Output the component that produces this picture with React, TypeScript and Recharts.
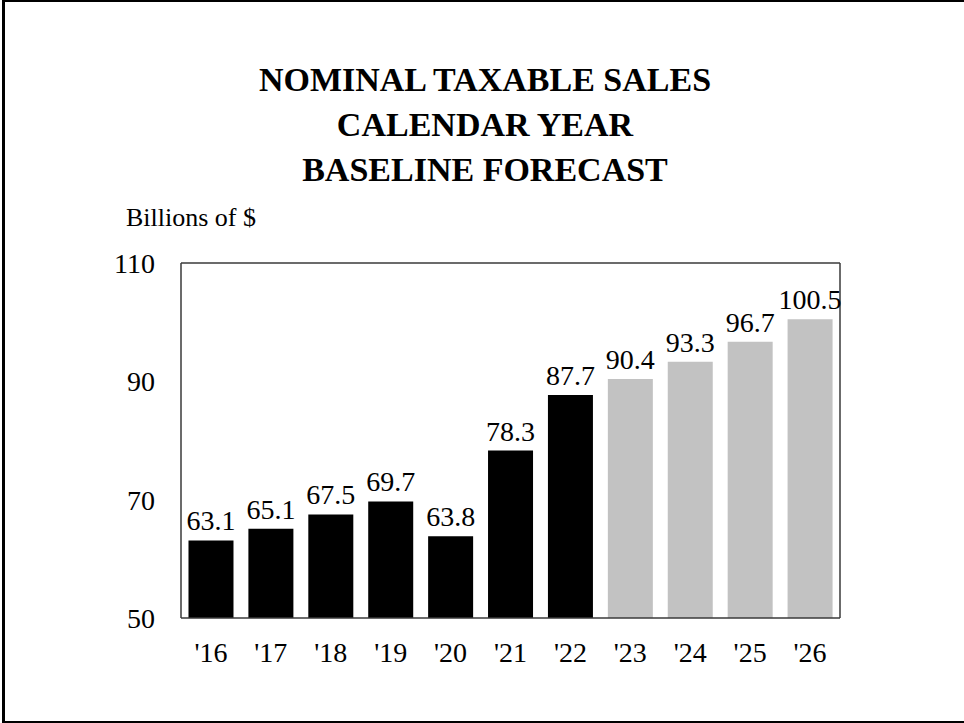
import { BarChart, Bar, XAxis, YAxis, LabelList, Cell, CartesianGrid } from 'recharts'

const years = ["'16", "'17", "'18", "'19", "'20", "'21", "'22", "'23", "'24", "'25", "'26"]
const sales = [63.1, 65.1, 67.5, 69.7, 63.8, 78.3, 87.7, 90.4, 93.3, 96.7, 100.5]
const forecast = [false, false, false, false, false, false, false, true, true, true, true]
const yTicks = [50, 70, 90, 110]
const titleLines = ['NOMINAL TAXABLE SALES', 'CALENDAR YEAR', 'BASELINE FORECAST']

const font = '"Liberation Serif", "Times New Roman", serif'
const axisColor = '#3a3a3a'

export default function App() {
  const data = years.map((year, i) => ({ year, sales: sales[i], forecast: forecast[i] }))

  return (
    <div style={{ position: 'absolute', left: 0, top: 0, width: 964, height: 723, background: '#fff', fontFamily: font }}>
      <div style={{ position: 'absolute', left: 2, top: 0, width: 962, height: 723, boxSizing: 'border-box', borderLeft: '3px solid #000', borderTop: '2px solid #000', borderBottom: '2px solid #000' }} />
      <div style={{ position: 'absolute', left: 0, top: 57, width: 970, textAlign: 'center', fontSize: 34, fontWeight: 'bold', lineHeight: '45px', color: '#000' }}>
        {titleLines.map((t) => <div key={t}>{t}</div>)}
      </div>
      <div style={{ position: 'absolute', left: 126, top: 205, fontSize: 26, lineHeight: '26px', color: '#000' }}>Billions of $</div>
      <BarChart
        width={964}
        height={723}
        data={data}
        margin={{ top: 263, right: 124, bottom: 45, left: 101 }}
        barCategoryGap="12.5%"
        style={{ fontFamily: font }}
      >
        {/* closes the frame: top and right edges of the plot */}
        <CartesianGrid
          stroke={axisColor}
          strokeWidth={1.5}
          horizontalCoordinatesGenerator={({ offset }: any) => [offset.top]}
          verticalCoordinatesGenerator={({ offset }: any) => [offset.left + offset.width]}
        />
        <XAxis
          dataKey="year"
          height={60}
          tickLine={false}
          tickSize={22}
          tickMargin={2}
          axisLine={{ stroke: axisColor, strokeWidth: 1.5 }}
          tick={{ fontSize: 28, fill: '#000' }}
          interval={0}
        />
        <YAxis
          domain={[50, 110]}
          ticks={yTicks}
          width={80}
          tickLine={false}
          tickSize={24}
          tickMargin={2}
          axisLine={{ stroke: axisColor, strokeWidth: 1.5 }}
          tick={{ fontSize: 28, fill: '#000' }}
          allowDataOverflow
        />
        <Bar dataKey="sales" isAnimationActive={false}>
          {data.map((d) => (
            <Cell key={d.year} fill={d.forecast ? '#c2c2c2' : '#000'} />
          ))}
          <LabelList dataKey="sales" position="top" offset={10} style={{ fontSize: 28, fill: '#000', fontFamily: font }} />
        </Bar>
      </BarChart>
    </div>
  )
}
